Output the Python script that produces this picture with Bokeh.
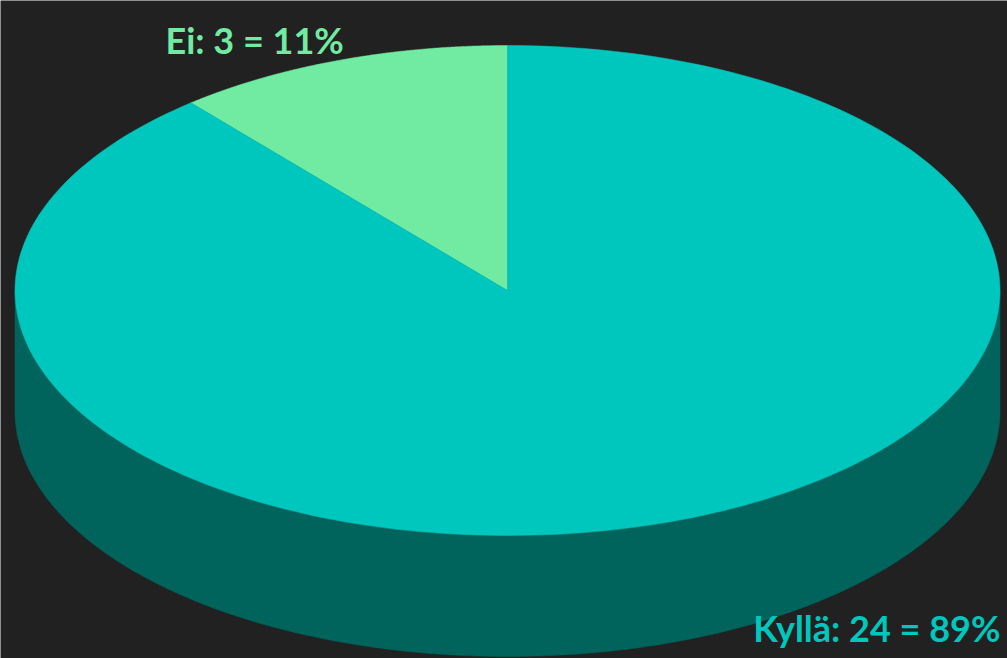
import numpy as np
from bokeh.plotting import figure
from bokeh.models import Range1d
from bokeh.core.properties import value
from bokeh.embed import file_html
from bokeh.resources import INLINE

# ---- data ----
categories = ["Ei", "Kyllä"]
counts = [3, 24]
top_colors = ["#71EBA1", "#00C7BE"]
side_colors = ["#3E9E66", "#00645D"]
label_colors = ["#71EBA1", "#00C7BE"]

BG = "#212121"
W, H = 1007, 658
CX, CY = 507.0, 290.0
RX, RY = 492.5, 245.0
DEPTH = 121.0
START_DEG = 90.0  # first slice starts at 12 o'clock, goes counter-clockwise

total = float(sum(counts))
fracs = [c / total for c in counts]
starts, ends = [], []
a = START_DEG
for f in fracs:
    starts.append(a)
    a += f * 360.0
    ends.append(a)


def arc(a0, a1, dy=0.0, n=240):
    t = np.radians(np.linspace(a0, a1, n))
    return CX + RX * np.cos(t), CY - RY * np.sin(t) + dy


p = figure(width=W, height=H, x_range=Range1d(0, W), y_range=Range1d(H, 0),
           output_backend="svg", toolbar_location=None, min_border=0)
p.axis.visible = False
p.grid.visible = False
p.outline_line_color = None
p.background_fill_color = BG
p.border_fill_color = BG

# side walls (only the front half, 180..360 deg, is visible)
sx, sy, sc = [], [], []
for s, e, col in zip(starts, ends, side_colors):
    for k in (0, 360):
        lo = max(s, 180 + k)
        hi = min(e, 360 + k)
        if hi > lo:
            tx, ty = arc(lo, hi)
            bx, by = arc(hi, lo, DEPTH)
            sx.append(list(np.concatenate([tx, bx])))
            sy.append(list(np.concatenate([ty, by])))
            sc.append(col)
p.patches(xs=sx, ys=sy, fill_color=sc, line_color=sc, line_width=0.5)

# top faces
tx_l, ty_l = [], []
for s, e in zip(starts, ends):
    ax_, ay_ = arc(s, e)
    tx_l.append([CX] + list(ax_))
    ty_l.append([CY] + list(ay_))
p.patches(xs=tx_l, ys=ty_l, fill_color=top_colors, line_color=top_colors, line_width=0.5)

# labels
pcts = [round(f * 100) for f in fracs]
texts = [f"{c}: {n} = {pc}%" for c, n, pc in zip(categories, counts, pcts)]
lab_x = [165, 1000]
lab_y = [39, 627]
aligns = ["left", "right"]
for t, x, y, al, col in zip(texts, lab_x, lab_y, aligns, label_colors):
    p.text(x=[x], y=[y], text=[t], text_align=al, text_baseline="alphabetic",
           text_color=col, text_font=value("Lato"), text_font_style="bold",
           text_font_size="36px")

open("out.html", "w").write(file_html(p, INLINE))
